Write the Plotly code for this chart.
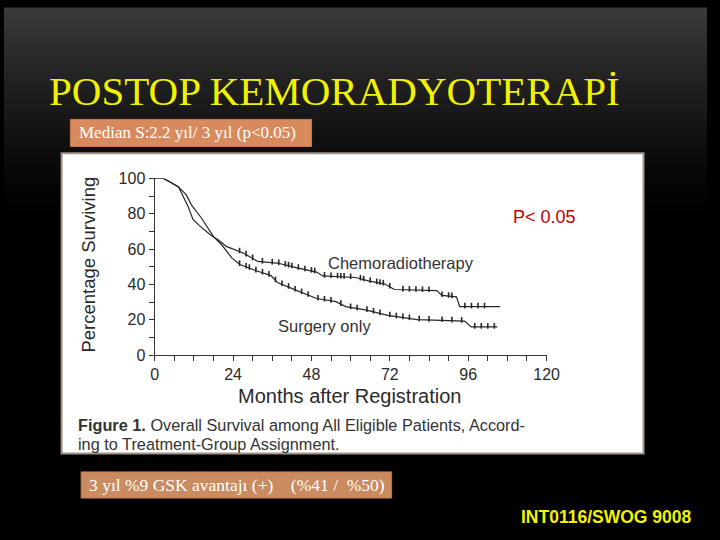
import numpy as np
import plotly.graph_objects as go

# ---------------- data ----------------
chemo_months = [0, 2.7, 4.7, 7.3, 10.2, 11.7, 13.7, 17.2, 19.6, 22.1, 27.1, 31.6, 35.6, 37.6,
                43.6, 49.6, 51.5, 61.5, 65.5, 70.5, 73.4, 86.4, 87.9, 92.4, 93.4, 105.8]
chemo_pct = [100, 100, 98, 95.2, 84.3, 76.9, 73.3, 67.8, 65, 61.4, 57.8, 53, 52.3, 52.1,
             49.4, 47, 44.8, 43.9, 42, 40.2, 37.1, 36.5, 33.8, 32.9, 27.4, 27.4]

surg_months = [0, 2.7, 4.7, 7.3, 9.7, 11.2, 14.2, 16.1, 18.1, 20.6, 23.6, 26.1, 31.1, 35.6,
               37.6, 43.6, 49.6, 55.5, 58.5, 64.5, 71.4, 80.4, 94.9, 96.9, 104.9]
surg_pct = [100, 100, 98, 95.2, 90.7, 85.2, 77.9, 72.4, 66.9, 62.3, 55, 51.3, 47.7, 45,
            41.1, 36.5, 32, 30.2, 27.4, 25.6, 22.5, 20.1, 19.2, 15.9, 15.9]

chemo_censor = [26, 28, 30, 33, 36, 38, 40, 41, 42, 44, 46, 48, 49, 52, 54, 56, 57, 58, 60,
                63, 64, 66, 68, 69, 70, 72, 76, 78, 80, 82, 84, 88, 90, 91, 95, 97, 99, 101]
surg_censor = [26, 28, 29, 31, 33, 35, 37, 39, 41, 43, 45, 47, 50, 52, 54, 57, 60, 62, 65,
               67, 69, 72, 74, 76, 78, 81, 84, 88, 91, 94, 98, 100, 102, 104]

x_ticks = [0, 24, 48, 72, 96, 120]
y_ticks = [0, 20, 40, 60, 80, 100]

title_text = "POSTOP KEMORADYOTERAPİ"
median_text = "Median S:2.2 yıl/ 3 yıl (p<0.05)"
bottom_text = "3 yıl %9 GSK avantajı (+)    (%41 /  %50)"
source_text = "INT0116/SWOG 9008"

W, H = 720, 540

def px(x):
    return x / W

def py(y):
    return 1 - y / H

fig = go.Figure()

line_col = "#262626"
fig.add_trace(go.Scatter(x=chemo_months, y=chemo_pct, mode="lines",
                         line=dict(color=line_col, width=1.2), hoverinfo="skip"))
fig.add_trace(go.Scatter(x=surg_months, y=surg_pct, mode="lines",
                         line=dict(color=line_col, width=1.2), hoverinfo="skip"))
fig.add_trace(go.Scatter(x=chemo_censor, y=np.interp(chemo_censor, chemo_months, chemo_pct) + 0.6,
                         mode="markers", marker=dict(symbol="line-ns", size=4,
                                                     line=dict(color=line_col, width=1.6)),
                         hoverinfo="skip"))
fig.add_trace(go.Scatter(x=surg_censor, y=np.interp(surg_censor, surg_months, surg_pct) + 0.6,
                         mode="markers", marker=dict(symbol="line-ns", size=4,
                                                     line=dict(color=line_col, width=1.6)),
                         hoverinfo="skip"))

# ---------------- background gradient ----------------
shapes = []
n = 30
for i in range(n):
    y0 = i * 220 / n
    y1 = (i + 1) * 220 / n
    t = i / (n - 1)
    v = int(round(0x3a * (1 - t) ** 1.3))
    shapes.append(dict(type="rect", xref="paper", yref="paper", x0=0, x1=1,
                       y0=py(y1) - 0.001, y1=py(y0) + 0.001, fillcolor=f"rgb({v},{v},{v})",
                       line=dict(width=0), layer="below"))
# chart picture panel
shapes.append(dict(type="rect", xref="paper", yref="paper", x0=px(59), x1=px(655),
                   y0=py(460), y1=py(150), fillcolor="white",
                   line=dict(color="#a39289", width=2), layer="below"))
# orange boxes
shapes.append(dict(type="rect", xref="paper", yref="paper", x0=px(68), x1=px(315),
                   y0=py(143), y1=py(115), fillcolor="#d88a5c",
                   line=dict(color="#c57a4e", width=1), layer="below"))
shapes.append(dict(type="rect", xref="paper", yref="paper", x0=px(79), x1=px(397),
                   y0=py(506), y1=py(479), fillcolor="#c98b5f",
                   line=dict(color="#b87a50", width=1), layer="below"))

ann = []
ann.append(dict(text=title_text, x=px(44), y=py(86), xref="paper", yref="paper",
                xanchor="left", yanchor="middle", showarrow=False,
                font=dict(family="Liberation Serif", size=41, color="#f2f200")))
ann.append(dict(text=median_text, x=px(75), y=py(129), xref="paper", yref="paper",
                xanchor="left", yanchor="middle", showarrow=False,
                font=dict(family="Liberation Serif", size=17, color="white")))
ann.append(dict(text=bottom_text, x=px(85), y=py(492), xref="paper", yref="paper",
                xanchor="left", yanchor="middle", showarrow=False,
                font=dict(family="Liberation Serif", size=17.5, color="white")))
ann.append(dict(text="<b>" + source_text + "</b>", x=px(706), y=py(526), xref="paper", yref="paper",
                xanchor="right", yanchor="middle", showarrow=False,
                font=dict(family="Liberation Sans", size=17.5, color="#f2f200")))
ann.append(dict(text="P< 0.05", x=px(519), y=py(216), xref="paper", yref="paper",
                xanchor="left", yanchor="middle", showarrow=False,
                font=dict(family="Liberation Sans", size=18, color="#c00000")))
ann.append(dict(text="Chemoradiotherapy", x=px(330), y=py(263), xref="paper", yref="paper",
                xanchor="left", yanchor="middle", showarrow=False,
                font=dict(family="Liberation Sans", size=16.5, color="#333333")))
ann.append(dict(text="Surgery only", x=px(279), y=py(328), xref="paper", yref="paper",
                xanchor="left", yanchor="middle", showarrow=False,
                font=dict(family="Liberation Sans", size=16.5, color="#333333")))
ann.append(dict(text="Months after Registration", x=px(354), y=py(401), xref="paper", yref="paper",
                xanchor="center", yanchor="middle", showarrow=False,
                font=dict(family="Liberation Sans", size=20, color="#2a2a2a")))
ann.append(dict(text="Percentage Surviving", x=px(87), y=py(265), xref="paper", yref="paper",
                xanchor="center", yanchor="middle", showarrow=False, textangle=-90,
                font=dict(family="Liberation Sans", size=18.5, color="#2a2a2a")))
ann.append(dict(text="<b>Figure 1.</b> Overall Survival among All Eligible Patients, Accord-",
                x=px(74), y=py(431), xref="paper", yref="paper",
                xanchor="left", yanchor="middle", showarrow=False,
                font=dict(family="Liberation Sans", size=16.3, color="#333333")))
ann.append(dict(text="ing to Treatment-Group Assignment.",
                x=px(74), y=py(450), xref="paper", yref="paper",
                xanchor="left", yanchor="middle", showarrow=False,
                font=dict(family="Liberation Sans", size=16.3, color="#333333")))

fig.update_layout(
    width=W, height=H, margin=dict(l=0, r=0, t=0, b=0),
    paper_bgcolor="black", plot_bgcolor="rgba(0,0,0,0)",
    showlegend=False, shapes=shapes, annotations=ann,
    xaxis=dict(domain=[px(154.3), px(555.7)], range=[0, 120], tickvals=x_ticks,
               showgrid=False, zeroline=False, showline=True, linecolor="#333", linewidth=1.3,
               ticks="outside", ticklen=5, tickcolor="#333", tickwidth=1.3,
               minor=dict(dtick=6, ticks="outside", ticklen=5, tickcolor="#333", tickwidth=1.3),
               tickfont=dict(family="Liberation Sans", size=16, color="#2a2a2a"),
               fixedrange=True),
    yaxis=dict(domain=[py(358.3), py(176)], range=[0, 100], tickvals=y_ticks,
               showgrid=False, zeroline=False, showline=True, linecolor="#333", linewidth=1.3,
               ticks="outside", ticklen=5, tickcolor="#333", tickwidth=1.3,
               minor=dict(dtick=10, ticks="outside", ticklen=5, tickcolor="#333", tickwidth=1.3),
               tickfont=dict(family="Liberation Sans", size=16, color="#2a2a2a"),
               fixedrange=True),
)

post = ("document.documentElement.style.margin='0';document.documentElement.style.background='black';"
        "document.body.style.margin='0';document.body.style.overflow='hidden';"
        "document.body.style.background='black';")

fig.write_html("out.html", config={"displayModeBar": False}, post_script=post)
